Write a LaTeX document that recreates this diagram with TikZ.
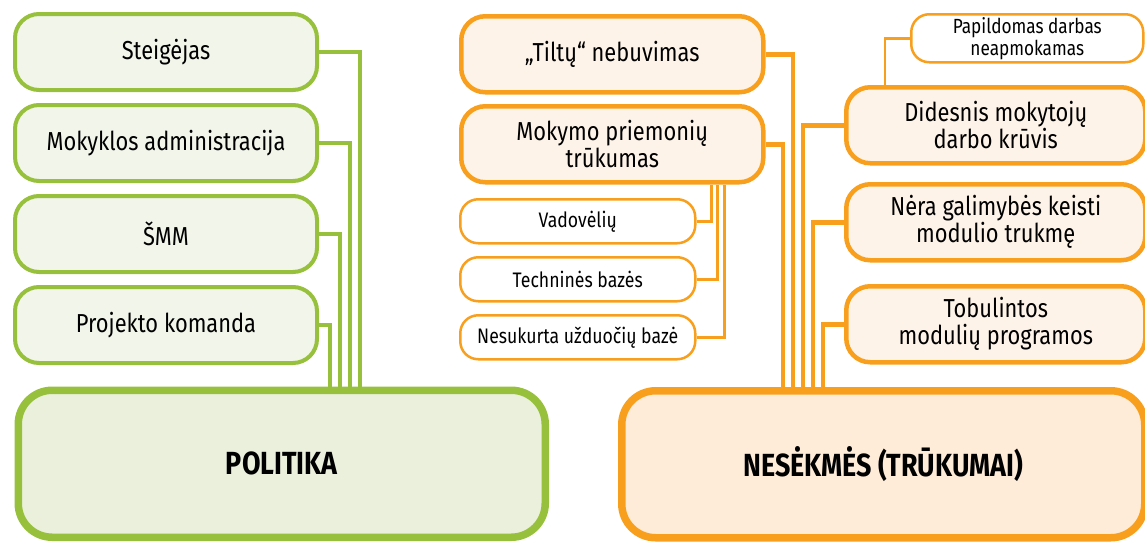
\documentclass[tikz,border=0pt]{standalone}
\usepackage{fontspec}
\setmainfont{Fira Sans}[FakeStretch=0.84]
\usetikzlibrary{positioning}
\definecolor{polgreen}{HTML}{97C13C}
\definecolor{polfill}{HTML}{F1F5EA}
\definecolor{polfilldark}{HTML}{EAF0DC}
\definecolor{failorange}{HTML}{F8A01E}
\definecolor{failfill}{HTML}{FEF3E8}
\definecolor{failfilldark}{HTML}{FEEBD8}
\tikzset{
	basebox/.style={anchor=north west, align=center, inner sep=0pt, text=black},
	gbox/.style={basebox, draw=polgreen, fill=polfill, line width=4pt, rounded corners=24pt, minimum width=302pt, minimum height=76pt, font=\fontsize{26}{27}\selectfont},
	obox/.style={basebox, draw=failorange, fill=failfill, line width=4.5pt, rounded corners=24pt, minimum height=76pt, font=\fontsize{26}{27}\selectfont},
	osmall/.style={basebox, draw=failorange, fill=white, line width=2.5pt, rounded corners=18pt, minimum height=44pt, font=\fontsize{21}{22}\selectfont},
	bigbox/.style={basebox, line width=7.5pt, rounded corners=34pt, minimum height=147pt, font=\bfseries\fontsize{32}{36}\selectfont},
	gline/.style={draw=polgreen, line width=4pt},
	oline/.style={draw=failorange, line width=4.5pt},
	othin/.style={draw=failorange, line width=2.5pt}
}

\begin{document}
\begin{tikzpicture}[x=1pt, y=-1pt]
	\useasboundingbox (0,0) rectangle (1145,541);
	
	\node[gbox] (steig) at (13,12) {Steigėjas};
	\node[gbox] (admin) at (13,103) {Mokyklos administracija};
	\node[gbox] (smm) at (13,194) {ŠMM};
	\node[gbox] (proj) at (13,285) {Projekto komanda};
	\node[bigbox, draw=polgreen, fill=polfilldark, minimum width=527pt] (politika) at (14.5,386.5) {POLITIKA};
	
	\draw[gline] (steig.east) -| ([xshift=345.5pt]politika.north west);
	\draw[gline] (admin.east) -| ([xshift=335.5pt]politika.north west);
	\draw[gline] (smm.east) -| ([xshift=325.5pt]politika.north west);
	\draw[gline] (proj.east) -| ([xshift=315.5pt]politika.north west);
	
	\node[obox, minimum width=302pt] (tiltu) at (459,14) {„Tiltų“ nebuvimas};
	\node[obox, minimum width=302pt] (mokymo) at (459,104) {Mokymo priemonių\\trūkumas};
	\node[osmall, minimum width=235pt] (vadov) at (459,198) {Vadovėlių};
	\node[osmall, minimum width=235pt] (techn) at (459,256) {Techninės bazės};
	\node[osmall, minimum width=235pt] (nesuk) at (459,314) {Nesukurta užduočių bazė};
	
	\node[osmall, minimum width=232pt, minimum height=48pt, font=\fontsize{20.5}{22}\selectfont] (papild) at (910,13) {Papildomas darbas\\neapmokamas};
	\node[obox, minimum width=299pt] (didesnis) at (844,85) {Didesnis mokytojų\\darbo krūvis};
	\node[obox, minimum width=299pt] (nera) at (844,182) {Nėra galimybės keisti\\modulio trukmę};
	\node[obox, minimum width=299pt] (tobul) at (844,284) {Tobulintos\\modulių programos};
	\node[bigbox, draw=failorange, fill=failfilldark, minimum width=523pt] (nesekmes) at (618,387) {NESĖKMĖS (TRŪKUMAI)};
	
	\draw[othin] (vadov.east) -| ([xshift=-54pt]mokymo.south east);
	\draw[othin] (techn.east) -| ([xshift=-48pt]mokymo.south east);
	\draw[othin] (nesuk.east) -| ([xshift=-41pt]mokymo.south east);
	\draw[othin] (papild.west) -| ([xshift=41pt]didesnis.north west);
	
	\draw[oline] (tiltu.east) -| ([xshift=175pt]nesekmes.north west);
	\draw[oline] (mokymo.east) -| ([xshift=165pt]nesekmes.north west);
	\draw[oline] (didesnis.west) -| ([xshift=185pt]nesekmes.north west);
	\draw[oline] (nera.west) -| ([xshift=195pt]nesekmes.north west);
	\draw[oline] (tobul.west) -| ([xshift=205pt]nesekmes.north west);
\end{tikzpicture}
\end{document}
